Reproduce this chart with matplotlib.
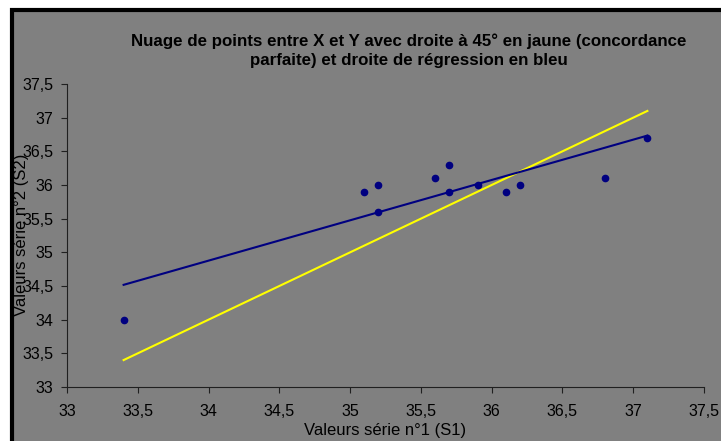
"""Nuage de points S1 / S2 avec droite a 45 degres et droite de regression."""

import numpy as np
from matplotlib import pyplot as plt
from matplotlib.patches import Rectangle
from matplotlib.ticker import FuncFormatter

# valeurs
s1 = [33.4, 35.1, 35.2, 35.2, 35.6, 35.7, 35.7, 35.9, 36.1, 36.2, 36.8, 37.1]
s2 = [34.0, 35.9, 36.0, 35.6, 36.1, 36.3, 35.9, 36.0, 35.9, 36.0, 36.1, 36.7]
ticks = [33, 33.5, 34, 34.5, 35, 35.5, 36, 36.5, 37, 37.5]


def virgule(v, pos):
    return f"{v:g}".replace(".", ",")


def main():
    plt.rcParams['font.family'] = ['Liberation Sans', 'DejaVu Sans']
    fig = plt.figure(figsize=(7.21, 4.41), dpi=100)
    fig.patch.set_facecolor('white')

    # fond gris avec bordure noire (haut et gauche visibles)
    fig.patches.append(Rectangle((11.5 / 721, -0.1), 1.2, 1.1 - 9.5 / 441,
                                 transform=fig.transFigure, facecolor='#808080',
                                 edgecolor='black', linewidth=3, zorder=-1))

    ax = fig.add_axes([67 / 721, 1 - 387 / 441, 637 / 721, 303 / 441])
    ax.set_facecolor('#808080')

    x = np.array(s1)
    y = np.array(s2)
    order = np.argsort(x, kind='stable')
    a, b = np.polyfit(x, y, 1)

    ax.plot(x[order], x[order], color='#FFFF00', linewidth=1.5)
    ax.plot(x[order], a * x[order] + b, color='#000080', linewidth=1.5)
    ax.plot(x, y, 'o', color='#000080', markersize=4.5)

    ax.set_xlim(33, 37.5)
    ax.set_ylim(33, 37.5)
    ax.set_xticks(ticks)
    ax.set_yticks(ticks)
    ax.xaxis.set_major_formatter(FuncFormatter(virgule))
    ax.yaxis.set_major_formatter(FuncFormatter(virgule))
    ax.tick_params(labelsize=11.5, length=4, color='#202020')
    ax.tick_params(axis='x', pad=8)
    ax.tick_params(axis='y', pad=6)
    for side in ['top', 'right']:
        ax.spines[side].set_visible(False)
    for side in ['left', 'bottom']:
        ax.spines[side].set_color('#202020')

    fig.text(385 / 721, 1 - 430 / 441, 'Valeurs série n°1 (S1)', fontsize=12,
             ha='center', va='center')
    fig.text(22 / 721, 1 - 235 / 441, 'Valeurs série n°2 (S2)', fontsize=12,
             rotation=90, ha='center', va='center')
    fig.text(409 / 721, 1 - 51 / 441,
             'Nuage de points entre X et Y avec droite à 45° en jaune (concordance\n'
             'parfaite) et droite de régression en bleu',
             fontsize=12.2, fontweight='bold', ha='center', va='center',
             linespacing=1.3)

    fig.savefig('out.png', dpi=100)


if __name__ == "__main__":
    main()
